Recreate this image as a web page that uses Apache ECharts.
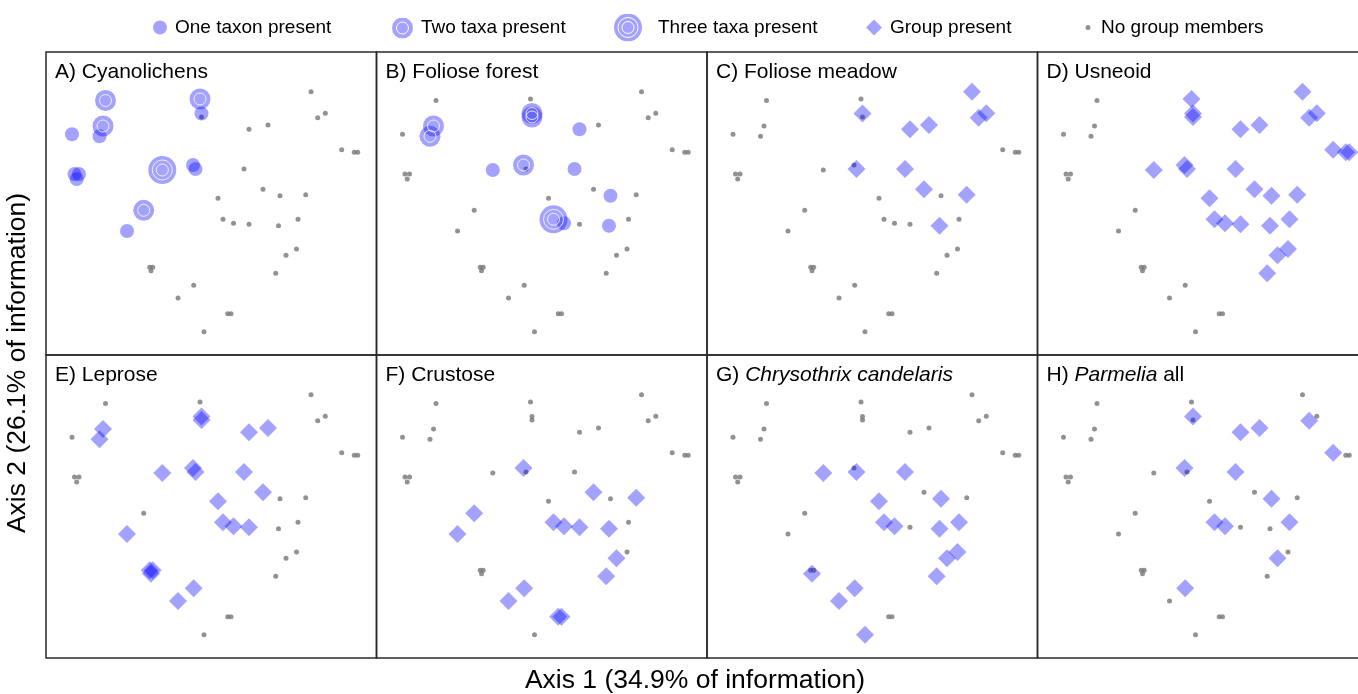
<!DOCTYPE html>
<html>
<head>
<meta charset="utf-8">
<script src="https://cdn.jsdelivr.net/npm/echarts@6/dist/echarts.min.js"></script>
<style>
  html, body { margin: 0; padding: 0; overflow: hidden; background: #fff; }
  #main { width: 1372px; height: 694px; }
</style>
</head>
<body>
<div id="main"></div>
<script>
// ordination scores of the 44 sites (plot units, axis 1 / axis 2)
var siteAxis1 = [59.5, 154, 265, 155.5, 155.5, 271.7, 279.3, 57, 53.5, 26, 203, 222, 295.7, 308.3, 311.7,
  116.3, 147, 149.5, 198, 217, 234, 259.7, 172, 97.7, 81, 177, 187.5, 203, 232.5, 252, 250.5, 240, 229.7,
  28.5, 33, 30.7, 103.7, 106.7, 105, 147.7, 132, 181.7, 185, 158];
var siteAxis2 = [254.5, 256, 263.3, 241.5, 238, 237.3, 241.7, 229, 218.7, 220.7, 225.7, 230, 205.3, 202.7, 202.7,
  185, 190, 186, 186, 165.7, 159.3, 160.3, 156.7, 144.7, 124, 135.7, 131.7, 130.7, 129.3, 135.7, 106, 99.7, 81.7,
  181, 181, 176, 87.7, 87.7, 84.3, 69.7, 57, 41.3, 41.3, 23.3];

// site numbers where taxa / groups occur
var cyanoOne = [4, 9, 10, 17, 18, 25, 34, 35, 36];
var cyanoTwo = [1, 2, 8, 24];
var cyanoThree = [16];
var forestOne = [11, 16, 19, 21, 27, 29];
var forestTwo = [4, 5, 8, 9, 17];
var forestThree = [26];
var meadow = [3, 4, 6, 7, 11, 12, 18, 19, 20, 22, 29];
var usneoid = [2, 3, 4, 5, 6, 7, 11, 12, 13, 14, 15, 16, 17, 18, 19, 20, 21, 22, 23, 26, 27, 28, 29, 30, 31, 32, 33];
var leprose = [4, 5, 8, 9, 11, 12, 16, 17, 18, 19, 20, 23, 25, 26, 27, 28, 37, 38, 39, 40, 41];
var crustose = [17, 20, 22, 24, 25, 26, 27, 28, 29, 32, 33, 40, 41, 42, 43];
var chrysothrix = [16, 18, 19, 21, 23, 26, 27, 29, 30, 31, 32, 33, 39, 40, 41, 44];
var parmelia = [4, 6, 11, 12, 13, 17, 19, 21, 26, 27, 30, 32, 40];

var panelTitles = ["A) Cyanolichens", "B) Foliose forest", "C) Foliose meadow", "D) Usneoid",
  "E) Leprose", "F) Crustose", "G) {i|Chrysothrix candelaris}", "H) {i|Parmelia} all"];
var legendNames = ["One taxon present", "Two taxa present", "Three taxa present", "Group present", "No group members"];

var FONT = "'Liberation Sans', Arial, Helvetica, sans-serif";
var BLUE = "rgba(0, 0, 255, 0.45)";
var GREY = "#777777";

function pts(ids) {
  return ids.map(function (id) { return [siteAxis1[id - 1], siteAxis2[id - 1]]; });
}
function absent(present) {
  var out = [];
  for (var k = 1; k <= siteAxis1.length; k++) {
    if (present.indexOf(k) < 0) out.push(k);
  }
  return out;
}
function ringIcon(size, rings) {
  var r = size / 2;
  var svg = "<svg xmlns='http://www.w3.org/2000/svg' width='" + size + "' height='" + size + "'>" +
    "<circle cx='" + r + "' cy='" + r + "' r='" + r + "' fill='rgb(0,0,255)' fill-opacity='0.45'/>";
  rings.forEach(function (rr) {
    svg += "<circle cx='" + r + "' cy='" + r + "' r='" + rr + "' fill='none' stroke='white' stroke-width='1'/>";
  });
  svg += "</svg>";
  return "image://data:image/svg+xml;charset=utf-8," + encodeURIComponent(svg);
}

function init_panels(container) {
  var chartDom = document.getElementById(container);
  var myChart = echarts.init(chartDom);
  var option;

  var panels = [
    { counts: [cyanoOne, cyanoTwo, cyanoThree] },
    { counts: [forestOne, forestTwo, forestThree] },
    { group: meadow },
    { group: usneoid },
    { group: leprose },
    { group: crustose },
    { group: chrysothrix },
    { group: parmelia }
  ];
  var colLeft = [46, 376.5, 707, 1037.5];
  var rowTop = [52, 355];

  var grids = [], xAxes = [], yAxes = [], titles = [], series = [];
  panels.forEach(function (p, i) {
    var left = colLeft[i % 4], top = rowTop[Math.floor(i / 4)];
    grids.push({
      left: left, top: top, width: 330.5, height: 303,
      show: true, borderColor: "#2a2a2a", borderWidth: 1.5, backgroundColor: "transparent"
    });
    xAxes.push({ gridIndex: i, type: "value", min: 0, max: 330.5, show: false });
    yAxes.push({ gridIndex: i, type: "value", min: 0, max: 303, show: false });
    titles.push({
      text: panelTitles[i], left: left + 9, top: top + 10, padding: 0,
      textStyle: {
        fontFamily: FONT, fontSize: 21, fontWeight: "normal", color: "#000",
        rich: { i: { fontFamily: FONT, fontSize: 21, fontStyle: "italic", color: "#000" } }
      }
    });

    var present = p.group ? p.group : p.counts[0].concat(p.counts[1], p.counts[2]);
    var base = { type: "scatter", xAxisIndex: i, yAxisIndex: i, silent: true, emphasis: { disabled: true } };

    series.push(Object.assign({}, base, {
      name: "No group members", symbolSize: 5, z: 2,
      itemStyle: { color: GREY }, data: pts(absent(present))
    }));

    if (p.group) {
      series.push(Object.assign({}, base, {
        name: "Group present", symbol: "diamond", symbolSize: 18, z: 3,
        itemStyle: { color: BLUE }, data: pts(p.group)
      }));
    } else {
      var sizes = [14, 21, 28];
      p.counts.forEach(function (ids, c) {
        series.push(Object.assign({}, base, {
          name: legendNames[c], symbol: "circle", symbolSize: sizes[c], z: 3,
          itemStyle: { color: BLUE }, data: pts(ids)
        }));
      });
      // white rings inside the multi-taxa circles
      series.push(Object.assign({}, base, {
        name: "ring1", symbolSize: 12, z: 4,
        itemStyle: { color: "rgba(0,0,0,0)", borderColor: "#ffffff", borderWidth: 1 },
        data: pts(p.counts[1].concat(p.counts[2]))
      }));
      series.push(Object.assign({}, base, {
        name: "ring2", symbolSize: 20, z: 4,
        itemStyle: { color: "rgba(0,0,0,0)", borderColor: "#ffffff", borderWidth: 1 },
        data: pts(p.counts[2])
      }));
    }
  });

  var legendText = { fontFamily: FONT, fontSize: 19, color: "#000" };
  function oneLegend(name, icon, left, top, w, h, pad) {
    return {
      data: [{ name: name, icon: icon }], left: left, top: top, padding: 0,
      itemWidth: w, itemHeight: h, selectedMode: false,
      textStyle: Object.assign({ padding: [0, 0, 0, pad] }, legendText)
    };
  }

  option = {
    animation: false,
    backgroundColor: "#ffffff",
    title: titles,
    grid: grids,
    xAxis: xAxes,
    yAxis: yAxes,
    legend: [
      oneLegend(legendNames[0], "circle", 153, 18, 14, 14, 3),
      oneLegend(legendNames[1], ringIcon(21, [6]), 392, 17.5, 21, 21, 3),
      oneLegend(legendNames[2], ringIcon(28, [6, 10]), 614, 13.5, 28, 28, 11),
      oneLegend(legendNames[3], "diamond", 866, 18, 16, 16, 3),
      oneLegend(legendNames[4], "circle", 1085.5, 18, 5, 5, 5.5)
    ],
    graphic: [
      {
        type: "text", x: 695, y: 681,
        style: { text: "Axis 1 (34.9% of information)", font: "26.5px " + FONT, fill: "#000", align: "center", verticalAlign: "middle" }
      },
      {
        type: "text", x: 18, y: 363, rotation: Math.PI / 2,
        style: { text: "Axis 2 (26.1% of information)", font: "26.5px " + FONT, fill: "#000", align: "center", verticalAlign: "middle" }
      }
    ],
    series: series
  };

  option && myChart.setOption(option);
}

init_panels("main");
</script>
</body>
</html>
